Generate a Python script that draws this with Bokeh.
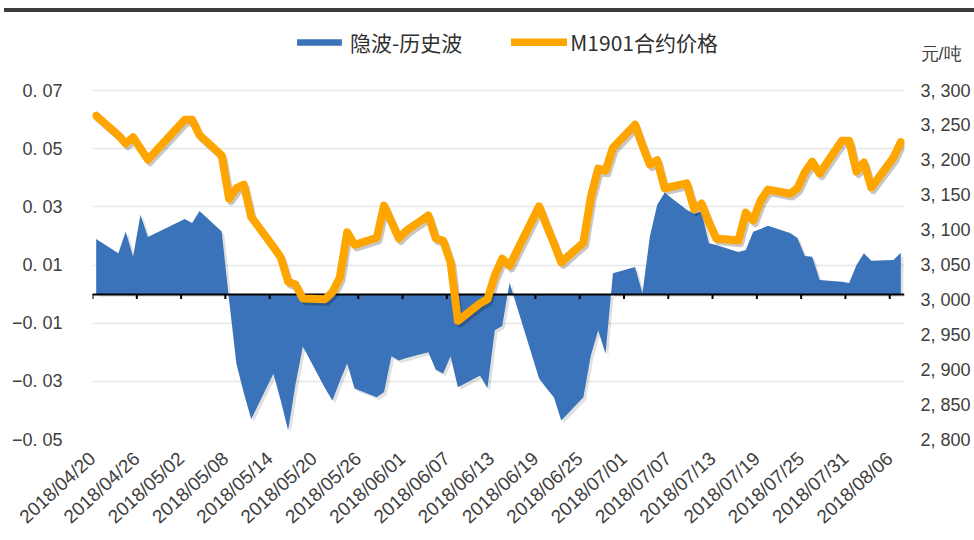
import numpy as np
import pandas as pd
from bokeh.plotting import figure
from bokeh.models import (Range1d, LinearAxis, FixedTicker, CustomJSTickFormatter,
                          Legend, LegendItem, Div)
from bokeh.layouts import column
from bokeh.embed import file_html
from bokeh.resources import INLINE

# ---------------- data ----------------
dates = [
    "2018-04-20", "2018-04-23", "2018-04-24", "2018-04-25", "2018-04-26", "2018-04-27",
    "2018-05-02", "2018-05-03", "2018-05-04",
    "2018-05-07", "2018-05-08", "2018-05-09", "2018-05-10", "2018-05-11",
    "2018-05-14", "2018-05-15", "2018-05-16", "2018-05-17", "2018-05-18",
    "2018-05-21", "2018-05-22", "2018-05-23", "2018-05-24", "2018-05-25",
    "2018-05-28", "2018-05-29", "2018-05-30", "2018-05-31", "2018-06-01",
    "2018-06-04", "2018-06-05", "2018-06-06", "2018-06-07", "2018-06-08",
    "2018-06-11", "2018-06-12", "2018-06-13", "2018-06-14", "2018-06-15",
    "2018-06-19", "2018-06-20", "2018-06-21", "2018-06-22",
    "2018-06-25", "2018-06-26", "2018-06-27", "2018-06-28", "2018-06-29",
    "2018-07-02", "2018-07-03", "2018-07-04", "2018-07-05", "2018-07-06",
    "2018-07-09", "2018-07-10", "2018-07-11", "2018-07-12", "2018-07-13",
    "2018-07-16", "2018-07-17", "2018-07-18", "2018-07-19", "2018-07-20",
    "2018-07-23", "2018-07-24", "2018-07-25", "2018-07-26", "2018-07-27",
    "2018-07-30", "2018-07-31", "2018-08-01", "2018-08-02", "2018-08-03",
    "2018-08-06", "2018-08-07",
]

iv_minus_hv = [
    0.0189, 0.0140, 0.0215, 0.0129, 0.0273, 0.0196,
    0.0258, 0.0244, 0.0286,
    0.0215, -0.0020, -0.0240, -0.0340, -0.0430,
    -0.0274, -0.0366, -0.0469, -0.0310, -0.0180,
    -0.0324, -0.0366, -0.0300, -0.0239, -0.0325,
    -0.0355, -0.0337, -0.0214, -0.0228, -0.0220,
    -0.0200, -0.0260, -0.0273, -0.0214, -0.0320,
    -0.0280, -0.0324, -0.0124, -0.0110, 0.0039,
    -0.0290, -0.0324, -0.0355, -0.0435,
    -0.0355, -0.0212, -0.0124, -0.0205, 0.0072,
    0.0093, 0.0003, 0.0197, 0.0307, 0.0348,
    0.0290, 0.0276, 0.0283, 0.0175, 0.0169,
    0.0145, 0.0152, 0.0214, 0.0224, 0.0235,
    0.0210, 0.0193, 0.0131, 0.0128, 0.0048,
    0.0042, 0.0038, 0.0100, 0.0140, 0.0115,
    0.0117, 0.0142,
]

m1901_price = [
    3264, 3236, 3224, 3233, 3217, 3201,
    3258, 3258, 3236,
    3207, 3145, 3160, 3165, 3119,
    3076, 3061, 3026, 3022, 3002,
    3001, 3011, 3032, 3097, 3079,
    3089, 3135, 3112, 3088, 3099,
    3121, 3088, 3085, 3054, 2970,
    2995, 3001, 3035, 3059, 3049,
    3134, 3107, 3081, 3054,
    3082, 3147, 3188, 3185, 3218,
    3251, 3221, 3194, 3200, 3160,
    3167, 3130, 3138, 3111, 3088,
    3085, 3125, 3114, 3142, 3158,
    3152, 3160, 3183, 3198, 3181,
    3228, 3228, 3184, 3197, 3161,
    3204, 3226,
]

x_tick_labels = [
    "2018/04/20", "2018/04/26", "2018/05/02", "2018/05/08", "2018/05/14",
    "2018/05/20", "2018/05/26", "2018/06/01", "2018/06/07", "2018/06/13",
    "2018/06/19", "2018/06/25", "2018/07/01", "2018/07/07", "2018/07/13",
    "2018/07/19", "2018/07/25", "2018/07/31", "2018/08/06",
]
left_ticks = [-0.05, -0.03, -0.01, 0.01, 0.03, 0.05, 0.07]
right_ticks = [2800, 2850, 2900, 2950, 3000, 3050, 3100, 3150, 3200, 3250, 3300]

series_names = ["隐波-历史波", "M1901合约价格"]
unit_label = "元/吨"

# ---------------- styling / layout ----------------
BLUE = "#3A73BA"
ORANGE = "#FFA500"
TEXT = "#404040"
LATIN = "Liberation Sans"
CJK = "Noto Sans CJK SC"

FIG_H = 528          # figure height (page has a 12 px bar above it)
FRAME_TOP = 4        # frame top inside the figure (room for legend inside frame)
AXIS_TOP_PX = 74     # pixels between frame top and the 0.07 / 3,300 level
AXIS_SPAN_PX = 349   # pixels from -0.05 to 0.07
UNIT_PX = 37         # pixels of the unit caption above 3,300

L_LO, L_HI = left_ticks[0], left_ticks[-1]
R_LO, R_HI = right_ticks[0], right_ticks[-1]
l_per_px = (L_HI - L_LO) / AXIS_SPAN_PX
r_per_px = (R_HI - R_LO) / AXIS_SPAN_PX
l_top = L_HI + AXIS_TOP_PX * l_per_px
r_top = R_HI + AXIS_TOP_PX * r_per_px
unit_tick = R_HI + UNIT_PX * r_per_px

start = pd.Timestamp(dates[0])
xd = ((pd.to_datetime(dates) - start).days.to_numpy() + 0.5).astype(float)
tick_x = [int(d) for d in (pd.to_datetime([s.replace("/", "-") for s in x_tick_labels]) - start).days]
x_end = float(xd[-1] + 0.5)
iv = np.array(iv_minus_hv)
pr = np.array(m1901_price, dtype=float)

p = figure(width=974, height=FIG_H, x_range=Range1d(0, x_end), y_range=Range1d(L_LO, l_top),
           output_backend="svg", toolbar_location=None,
           min_border_left=92, min_border_right=70, min_border_top=FRAME_TOP,
           min_border_bottom=FIG_H - FRAME_TOP - AXIS_TOP_PX - AXIS_SPAN_PX)
p.extra_y_ranges = {"price": Range1d(R_LO, r_top)}
p.outline_line_color = None
p.xgrid.visible = False
p.ygrid.ticker = FixedTicker(ticks=left_ticks)
p.ygrid.grid_line_color = "#e6e6e6"
p.ygrid.grid_line_width = 1.5

# blue area with a soft shadow
p.varea(x=xd + 0.35, y1=-0.0009, y2=iv - 0.0009, fill_color="#000000", fill_alpha=0.12)
area = p.varea(x=xd, y1=0, y2=iv, fill_color=BLUE)

# zero line with ticks
p.hspan(y=[0], line_color="black", line_width=2)
p.segment(x0=tick_x, y0=[0] * len(tick_x), x1=tick_x, y1=[-0.0017] * len(tick_x),
          line_color="black", line_width=2)

# orange price line with shadow
p.line(xd + 0.3, pr - 4.5, y_range_name="price", line_color="#000000", line_alpha=0.22,
       line_width=7, line_join="round", line_cap="round")
price_line = p.line(xd, pr, y_range_name="price", line_color=ORANGE, line_width=8,
                    line_join="round", line_cap="round")

# axes
ly = p.yaxis[0]
ly.ticker = FixedTicker(ticks=left_ticks)
ly.formatter = CustomJSTickFormatter(code="return tick.toFixed(2).replace('-', '\u2212').replace('.', '. ');")
ly.axis_line_color = None
ly.major_tick_line_color = None
ly.minor_tick_line_color = None
ly.major_tick_out = 0
ly.major_label_standoff = 30
ly.major_label_text_font = LATIN
ly.major_label_text_font_size = "18px"
ly.major_label_text_color = TEXT

ry = LinearAxis(y_range_name="price", ticker=FixedTicker(ticks=right_ticks + [unit_tick]),
                formatter=CustomJSTickFormatter(
                    args=dict(unit=unit_label, hi=R_HI),
                    code="if (tick > hi + 1) { return unit; } var s = Math.round(tick).toString(); return s.slice(0, s.length-3) + ', ' + s.slice(s.length-3);"))
ry.axis_line_color = None
ry.major_tick_line_color = None
ry.minor_tick_line_color = None
ry.major_tick_out = 0
ry.major_label_standoff = 16
ry.major_label_text_font = LATIN
ry.major_label_text_font_size = "18px"
ry.major_label_text_color = TEXT
p.add_layout(ry, "right")

bx = p.xaxis[0]
bx.ticker = FixedTicker(ticks=tick_x)
bx.major_label_overrides = {t: lab for t, lab in zip(tick_x, x_tick_labels)}
bx.major_label_orientation = 0.74
bx.axis_line_color = None
bx.major_tick_line_color = None
bx.minor_tick_line_color = None
bx.major_tick_out = 0
bx.major_label_standoff = 16
bx.major_label_text_font = LATIN
bx.major_label_text_font_size = "19px"
bx.major_label_text_color = TEXT

legend = Legend(items=[LegendItem(label=series_names[0], renderers=[area]),
                       LegendItem(label=series_names[1], renderers=[price_line])],
                location=(199, 382), orientation="horizontal",
                glyph_width=56, glyph_height=8, label_standoff=3, spacing=49,
                padding=0, margin=0, border_line_color=None, background_fill_alpha=0,
                label_text_font=CJK, label_text_font_size="21px", label_text_color="#303030",
                label_height=8)
p.add_layout(legend, "center")

bar = Div(text="", width=970, height=4, margin=(8, 0, 0, 4),
          styles={"background-color": "#3c3c3c"})
layout = column(bar, p, spacing=0)

open("out.html", "w").write(file_html(layout, INLINE))
